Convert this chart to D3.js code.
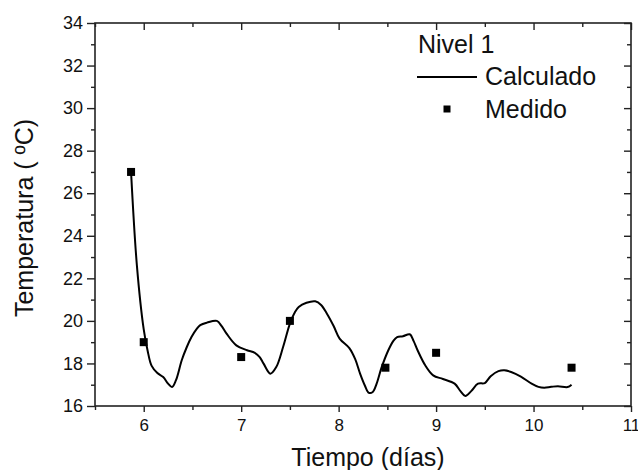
<!DOCTYPE html>
<html>
<head>
<meta charset="utf-8">
<script src="https://cdn.jsdelivr.net/npm/d3@7"></script>
<style>
  body { margin: 0; background: #fff; }
  svg { display: block; font-family: Arial, "Liberation Sans", sans-serif; }
  .frame { fill: none; stroke: #222; stroke-width: 1.6; }
  .tick line { stroke: #222; stroke-width: 1.4; }
  .domain { display: none; }
</style>
</head>
<body>
<svg id="chart" width="638" height="470"></svg>
<script>
// measured points (Medido)
var medX = [5.87, 6.0, 7.0, 7.5, 8.48, 9.0, 10.39];
var medY = [27.0, 19.0, 18.3, 20.0, 17.8, 18.5, 17.8];

// calculated curve (Calculado)
var calcX = [5.87, 5.93, 6.0, 6.04, 6.08, 6.14, 6.20, 6.25, 6.29, 6.33, 6.39, 6.44, 6.49, 6.54, 6.58,
             6.65, 6.75, 6.80, 6.85, 6.95, 7.06, 7.14, 7.19, 7.23, 7.30, 7.36, 7.43, 7.50, 7.55, 7.59,
             7.67, 7.76, 7.82, 7.88, 7.95, 8.01, 8.11, 8.17, 8.22, 8.27, 8.31, 8.35, 8.39, 8.44, 8.51,
             8.56, 8.60, 8.66, 8.73, 8.77, 8.81, 8.89, 8.97, 9.07, 9.19, 9.25, 9.30, 9.36, 9.43, 9.50,
             9.56, 9.64, 9.70, 9.77, 9.87, 9.98, 10.05, 10.11, 10.18, 10.25, 10.35, 10.39];
var calcY = [27.0, 22.6, 19.6, 18.6, 17.9, 17.55, 17.36, 17.05, 16.89, 17.2, 18.15, 18.75, 19.24, 19.6, 19.8,
             19.92, 20.0, 19.75, 19.40, 18.85, 18.62, 18.5, 18.3, 17.99, 17.52, 17.83, 18.77, 19.87, 20.4, 20.65,
             20.85, 20.92, 20.75, 20.34, 19.75, 19.17, 18.72, 18.2, 17.52, 16.95, 16.62, 16.66, 17.05, 17.8, 18.62,
             19.05, 19.24, 19.28, 19.37, 19.05, 18.62, 17.9, 17.44, 17.27, 17.05, 16.7, 16.47, 16.7, 17.05, 17.08,
             17.4, 17.64, 17.68, 17.6, 17.38, 17.05, 16.9, 16.86, 16.9, 16.93, 16.89, 17.0];

var xTicks = [6, 7, 8, 9, 10, 11];
var yTicks = [16, 18, 20, 22, 24, 26, 28, 30, 32, 34];

function drawChart() {
    var svg = d3.select("#chart");
    var mLeft = 95, mRight = 631, mTop = 23, mBottom = 406;

    var x = d3.scaleLinear().domain([5.5, 11]).range([mLeft, mRight]);
    var y = d3.scaleLinear().domain([16, 34]).range([mBottom, mTop]);

    var xMinor = d3.range(5.5, 11.01, 0.5).filter(function(d) { return xTicks.indexOf(d) < 0; });
    var yMinor = d3.range(17, 34, 2);

    // bottom axis: outward ticks with labels
    svg.append("g").attr("transform", "translate(0," + mBottom + ")")
        .call(d3.axisBottom(x).tickValues(xTicks).tickSize(6).tickPadding(7)
              .tickFormat(d3.format("d")))
        .attr("font-size", 17).attr("font-family", null);
    svg.append("g").attr("transform", "translate(0," + mBottom + ")")
        .call(d3.axisBottom(x).tickValues(xMinor).tickSize(4).tickFormat(""));

    // left axis
    svg.append("g").attr("transform", "translate(" + mLeft + ",0)")
        .call(d3.axisLeft(y).tickValues(yTicks).tickSize(8).tickPadding(4)
              .tickFormat(d3.format("d")))
        .attr("font-size", 18).attr("font-family", null);
    svg.append("g").attr("transform", "translate(" + mLeft + ",0)")
        .call(d3.axisLeft(y).tickValues(yMinor).tickSize(4).tickFormat(""));

    // top and right mirrored ticks pointing inward
    svg.append("g").attr("transform", "translate(0," + mTop + ")")
        .call(d3.axisTop(x).tickValues(xTicks).tickSize(-7).tickFormat(""));
    svg.append("g").attr("transform", "translate(0," + mTop + ")")
        .call(d3.axisTop(x).tickValues(xMinor).tickSize(-4).tickFormat(""));
    svg.append("g").attr("transform", "translate(" + mRight + ",0)")
        .call(d3.axisRight(y).tickValues(yTicks).tickSize(-7).tickFormat(""));
    svg.append("g").attr("transform", "translate(" + mRight + ",0)")
        .call(d3.axisRight(y).tickValues(yMinor).tickSize(-4).tickFormat(""));

    svg.selectAll(".tick text").attr("fill", "#111");

    svg.append("rect").attr("class", "frame")
        .attr("x", mLeft).attr("y", mTop)
        .attr("width", mRight - mLeft).attr("height", mBottom - mTop);

    // calculated line
    var line = d3.line()
        .x(function(d) { return x(d[0]); })
        .y(function(d) { return y(d[1]); })
        .curve(d3.curveCatmullRom.alpha(0.5));

    svg.append("path")
        .datum(d3.zip(calcX, calcY))
        .attr("d", line)
        .attr("fill", "none")
        .attr("stroke", "#000")
        .attr("stroke-width", 2);

    // measured squares
    var sq = 8;
    svg.selectAll(".med")
        .data(d3.zip(medX, medY))
        .enter().append("rect")
        .attr("class", "med")
        .attr("x", function(d) { return x(d[0]) - sq / 2; })
        .attr("y", function(d) { return y(d[1]) - sq / 2; })
        .attr("width", sq).attr("height", sq)
        .attr("fill", "#000");

    // legend
    var leg = svg.append("g").style("font-size", "25px").attr("fill", "#111");
    leg.append("text").attr("x", 418).attr("y", 53).text("Nivel 1");
    leg.append("line").attr("x1", 417).attr("x2", 477).attr("y1", 77).attr("y2", 77)
        .attr("stroke", "#000").attr("stroke-width", 2);
    leg.append("text").attr("x", 485).attr("y", 85).text("Calculado");
    leg.append("rect").attr("x", 447 - 3.5).attr("y", 109 - 3.5).attr("width", 7).attr("height", 7)
        .attr("fill", "#000");
    leg.append("text").attr("x", 485).attr("y", 118).text("Medido");

    // axis titles
    svg.append("text")
        .attr("x", (mLeft + mRight) / 2 + 5).attr("y", 466)
        .attr("text-anchor", "middle")
        .style("font-size", "25px").attr("fill", "#111")
        .text("Tiempo (días)");

    svg.append("text")
        .attr("transform", "translate(33,218) rotate(-90)")
        .attr("text-anchor", "middle")
        .style("font-size", "25px").attr("fill", "#111")
        .text("Temperatura ( ºC)");
}

drawChart();
</script>
</body>
</html>
